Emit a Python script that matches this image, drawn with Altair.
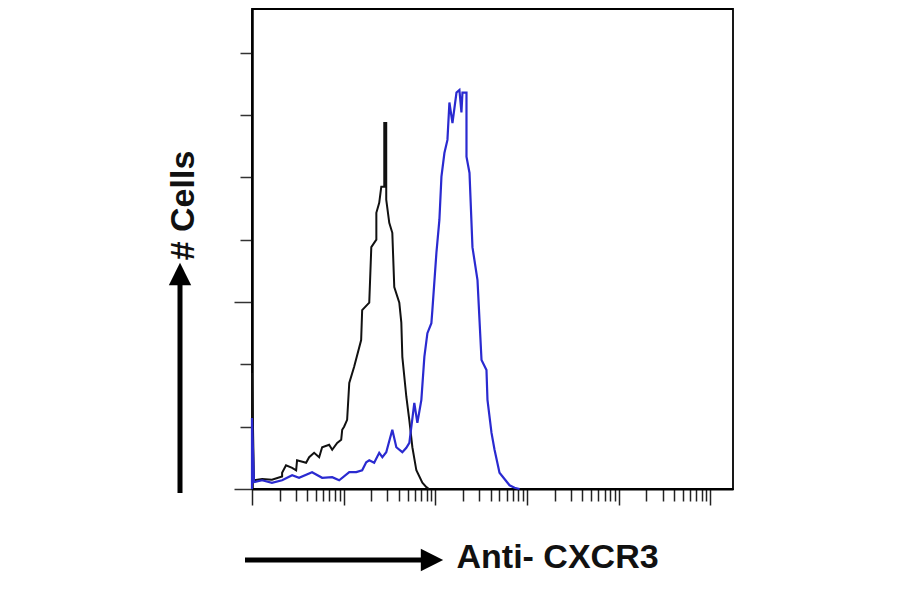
import altair as alt
import pandas as pd

# Isotype control (black) histogram: fluorescence intensity vs cell count
iso_x = [1, 1, 1.05, 1.29, 1.65, 2.13, 2.13, 2.35, 2.74, 3.03, 3.10, 3.89, 4.20, 4.76,
         5.40, 5.82, 6.94, 7.49, 8.49, 9.39, 9.63, 10.1, 10.9, 11.5, 13.0, 15.5, 15.9,
         19.0, 20.0, 22.7, 22.7, 24.4, 25.7, 27.7, 27.7, 29.1, 29.1, 31.4, 33.9, 35.6,
         40.4, 42.5, 43.6, 48.2, 52.0, 56.1, 62.0, 72.1, 79.8, 85.0]
iso_count = [0, 186, 14, 16, 15, 20, 26, 38, 34, 30, 46, 42, 51, 58,
             51, 67, 71, 63, 74, 79, 95, 100, 111, 170, 196, 239, 287,
             299, 388, 400, 443, 459, 485, 485, 587, 587, 464, 427, 411, 324,
             299, 267, 212, 148, 110, 67, 30, 10, 3, 0]

# Anti-CXCR3 (blue) histogram
cx_x = [1, 1, 1.05, 1.29, 1.65, 2.13, 2.74, 3.26, 4.52, 5.82, 7.49, 8.93, 11.5, 13.7,
        15.9, 17.6, 19.0, 21.5, 24.4, 26.4, 29.1, 33.9, 37.5, 43.6, 48.2, 52.0, 58.9,
        63.6, 70.3, 75.8, 81.8, 90.4, 92.7, 102.6, 110.6, 116.4, 125.4, 135.3, 142.2,
        153.5, 169.8, 182.8, 192.3, 197.3, 218.3, 218.3, 235.5, 253.6, 287.8, 318.4,
        360.6, 369.8, 409.3, 441.6, 500.2, 643.6, 729.5, 827.6]
cx_count = [0, 114, 11, 14, 10, 14, 22, 18, 27, 18, 19, 14, 27, 27,
            30, 43, 46, 42, 58, 51, 59, 95, 67, 59, 66, 74, 138,
            106, 143, 212, 250, 266, 287, 379, 432, 501, 539, 560, 620,
            587, 636, 640, 604, 636, 636, 533, 507, 388, 335, 207,
            191, 143, 90, 63, 26, 6, 2, 0]

x_ticks = [k * 10 ** d for d in range(5) for k in range(1, 10)] + [100000]
y_ticks = [0, 100, 200, 300, 400, 500, 600, 700]

iso = pd.DataFrame({"intensity": iso_x, "cells": iso_count,
                    "order": list(range(len(iso_x)))})
cx = pd.DataFrame({"intensity": cx_x, "cells": cx_count,
                   "order": list(range(len(cx_x)))})

FONT = "Liberation Sans"

x_enc = alt.X(
    "intensity:Q",
    scale=alt.Scale(type="log", domain=[1, 176000], nice=False),
    axis=alt.Axis(
        values=x_ticks, labels=False, grid=False,
        tickSize={"condition": {"test": "indexof([1,10,100,1000,10000,100000], datum.value) >= 0",
                                "value": 16}, "value": 12},
        tickColor="#222", tickWidth=1.5,
        domainColor="black", domainWidth=2,
        title="Anti- CXCR3", titleFont=FONT, titleFontSize=34, titleFontWeight="bold",
        titleColor="#111", titleX=204, titleY=78, titleAlign="left",
        titleBaseline="alphabetic",
    ),
)
y_enc = alt.Y(
    "cells:Q",
    scale=alt.Scale(domain=[0, 770], nice=False),
    axis=alt.Axis(
        values=y_ticks, labels=False, grid=False,
        tickSize={"condition": {"test": "datum.value == 0 || datum.value == 300", "value": 18},
                  "value": 12},
        tickColor="#333", tickWidth=1.5,
        domainColor="black", domainWidth=2.5,
        title="# Cells", titleFont=FONT, titleFontSize=34, titleFontWeight="bold",
        titleColor="#111", titleX=-69, titleY=196, titleAngle=270,
        titleAlign="center", titleBaseline="middle",
    ),
)

black = alt.Chart(iso).mark_line(color="#111111", strokeWidth=2).encode(
    x=x_enc, y=y_enc, order=alt.Order("order:Q"))
blue = alt.Chart(cx).mark_line(color="#2a2ad0", strokeWidth=2.2).encode(
    x="intensity:Q", y="cells:Q", order=alt.Order("order:Q"))

one = pd.DataFrame({"a": [0]})
# annotation arrows (pixel positions relative to the plot area)
h_shaft = alt.Chart(one).mark_rule(color="black", strokeWidth=5).encode(
    x=alt.value(-7), x2=alt.value(173), y=alt.value(551))
h_head = alt.Chart(one).mark_point(shape="M-1,-1L1,0L-1,1Z", filled=True, size=500,
                                   color="black", opacity=1, strokeWidth=0).encode(
    x=alt.value(180), y=alt.value(551))
v_shaft = alt.Chart(one).mark_rule(color="black", strokeWidth=5).encode(
    x=alt.value(-72), y=alt.value(484), y2=alt.value(275))
v_head = alt.Chart(one).mark_point(shape="M-1,1L0,-1L1,1Z", filled=True, size=500,
                                   color="black", opacity=1, strokeWidth=0).encode(
    x=alt.value(-72), y=alt.value(265))

chart = alt.layer(black, blue, h_shaft, h_head, v_shaft, v_head).properties(
    width=481, height=480,
    background="white",
    autosize=alt.AutoSizeParams(type="none"),
    padding={"left": 244, "top": 1, "right": 150, "bottom": 90},
).configure_view(stroke="black", strokeWidth=1.8)

chart.save("out.html", embed_options={"renderer": "svg", "actions": False})
